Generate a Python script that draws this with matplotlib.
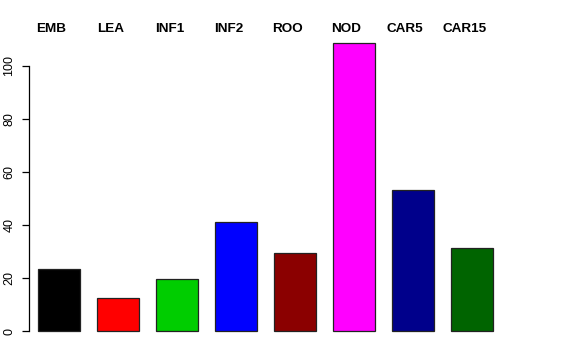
import matplotlib
matplotlib.use('Agg')
import matplotlib.pyplot as plt

# sample groups and their values
groups = ['EMB', 'LEA', 'INF1', 'INF2', 'ROO', 'NOD', 'CAR5', 'CAR15']
values = [23.4, 12.3, 19.8, 41.0, 29.6, 108.7, 53.1, 31.2]
colors = ['#000000', '#FF0000', '#00CD00', '#0000FF',
          '#8B0000', '#FF00FF', '#00008B', '#006400']
yticks = [0, 20, 40, 60, 80, 100]

plt.rcParams['font.family'] = ['Liberation Sans', 'DejaVu Sans']

fig = plt.figure(figsize=(5.76, 3.6), dpi=100, facecolor='white')
ax = fig.add_axes([0, 0, 1, 1])
ax.set_xlim(-1, 8.763)
ax.set_ylim(-10.94, 124.9)

pos = list(range(len(groups)))
ax.bar(pos, values, width=0.71, color=colors, edgecolor='#222222', linewidth=0.9)

# group labels sit a bit left of the bar centres
for x, g in zip(pos, groups):
    ax.text(x - 0.13, 113.8, g, ha='center', va='center', fontsize=9.7, fontweight='bold')

for s in ['top', 'right', 'bottom']:
    ax.spines[s].set_visible(False)
ax.spines['left'].set_position(('data', -0.508))
ax.spines['left'].set_bounds(0, 100)
ax.spines['left'].set_linewidth(0.9)
ax.set_xticks([])
ax.set_yticks(yticks)
ax.set_yticklabels([str(t) for t in yticks], rotation=90, va='center', fontsize=9)
ax.tick_params(axis='y', length=5.2, width=0.9, pad=4.5, direction='out')

fig.savefig('out.png', dpi=100, facecolor='white')
